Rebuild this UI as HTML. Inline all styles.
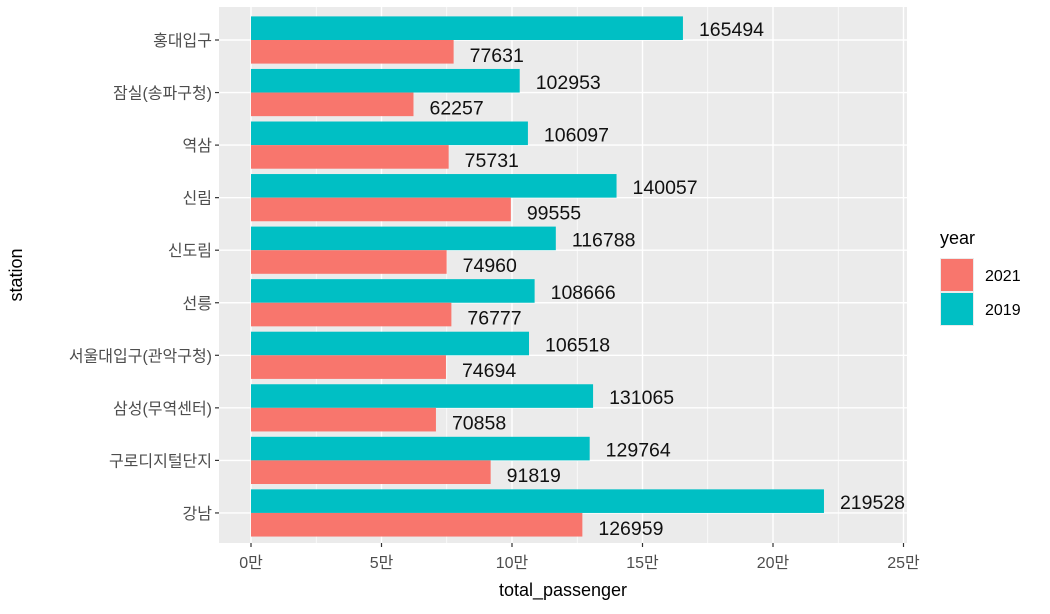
<!DOCTYPE html>
<html><head><meta charset="utf-8"><style>
body{margin:0;background:#fff;}
svg text{font-family:"Liberation Sans","Noto Sans CJK KR",sans-serif;}
</style></head><body>
<svg id="c" width="1050" height="609" xmlns="http://www.w3.org/2000/svg"></svg>
<script>
const stations=["홍대입구","잠실(송파구청)","역삼","신림","신도림","선릉","서울대입구(관악구청)","삼성(무역센터)","구로디지털단지","강남"];
const v2019=[165494,102953,106097,140057,116788,108666,106518,131065,129764,219528];
const v2021=[77631,62257,75731,99555,74960,76777,74694,70858,91819,126959];
const ticks=[0,50000,100000,150000,200000,250000];
const tickLabels=["0만","5만","10만","15만","20만","25만"];
const NS="http://www.w3.org/2000/svg";
const svg=document.getElementById('c');
const L=219,R=907,T=7,B=543;
const x=v=>251+v*(773-251)/200000;
const y0=40,step=52.55;
const yc=i=>y0+i*step;
function el(t,a,txt){const e=document.createElementNS(NS,t);for(const k in a)e.setAttribute(k,a[k]);if(txt!=null)e.textContent=txt;svg.appendChild(e);return e;}
const defs=el('defs',{});
const cp=document.createElementNS(NS,'clipPath');cp.setAttribute('id','pc');defs.appendChild(cp);
const cr=document.createElementNS(NS,'rect');cr.setAttribute('x',L);cr.setAttribute('y',T);cr.setAttribute('width',R-L);cr.setAttribute('height',B-T);cp.appendChild(cr);
const bg=el('rect',{x:L,y:T,width:R-L,height:B-T,fill:'#ebebeb'});


for(let i=0;i<ticks.length-1;i++){const m=(ticks[i]+ticks[i+1])/2;el('line',{x1:x(m),x2:x(m),y1:T,y2:B,stroke:'#fff','stroke-width':0.7});}
ticks.forEach(t=>el('line',{x1:x(t),x2:x(t),y1:T,y2:B,stroke:'#fff','stroke-width':1.4}));
stations.forEach((s,i)=>el('line',{x1:L,x2:R,y1:yc(i),y2:yc(i),stroke:'#fff','stroke-width':1.4}));
const g=el('g',{'clip-path':'url(#pc)'});
const bh=23.6;
stations.forEach((s,i)=>{
  const c=yc(i);
  const a=document.createElementNS(NS,'rect');
  a.setAttribute('x',x(0));a.setAttribute('y',c-bh);a.setAttribute('width',x(v2019[i])-x(0));a.setAttribute('height',bh);a.setAttribute('fill','#00bfc4');
  
  
  g.appendChild(a);
  const b=document.createElementNS(NS,'rect');
  b.setAttribute('x',x(0));b.setAttribute('y',c);b.setAttribute('width',x(v2021[i])-x(0));b.setAttribute('height',bh);b.setAttribute('fill','#f8766d');
  
  
  g.appendChild(b);
  [[v2019[i],c-bh/2+1],[v2021[i],c+bh/2+3]].forEach(([v,yy])=>{
    const t=document.createElementNS(NS,'text');
    t.setAttribute('x',x(v)+16);t.setAttribute('y',yy+7);t.setAttribute('font-size','19.5');t.setAttribute('fill','#111');
    t.textContent=v;
    
    
    g.appendChild(t);
  });
  el('line',{x1:L-4,x2:L,y1:c,y2:c,stroke:'#333','stroke-width':1.2});
  const yl=el('text',{x:L-7,y:c+6,'font-size':16,fill:'#4d4d4d','text-anchor':'end'},s);
  
  
});
ticks.forEach((t,i)=>{
  el('line',{x1:x(t),x2:x(t),y1:B,y2:B+4,stroke:'#333','stroke-width':1.2});
  const xl=el('text',{x:x(t),y:B+25,'font-size':16,fill:'#4d4d4d','text-anchor':'middle'},tickLabels[i]);
  
  
});
const xt=el('text',{x:(L+R)/2,y:596,'font-size':18,fill:'#000','text-anchor':'middle'},'total_passenger');


const yt=el('text',{x:0,y:0,'font-size':18,fill:'#000','text-anchor':'middle',transform:`translate(22,${(T+B)/2}) rotate(-90)`},'station');


const lt=el('text',{x:940,y:244,'font-size':18,fill:'#000'},'year');


[['2021','#f8766d',258],['2019','#00bfc4',292]].forEach(([lab,col,yy])=>{
  el('rect',{x:940,y:yy,width:34,height:34,fill:'#ebebeb'});
  const k=el('rect',{x:941,y:yy+1,width:32,height:32,fill:col});
  
  
  const lt2=el('text',{x:985,y:yy+23,'font-size':16,fill:'#000'},lab);
  
  
});
</script>
</body></html>
